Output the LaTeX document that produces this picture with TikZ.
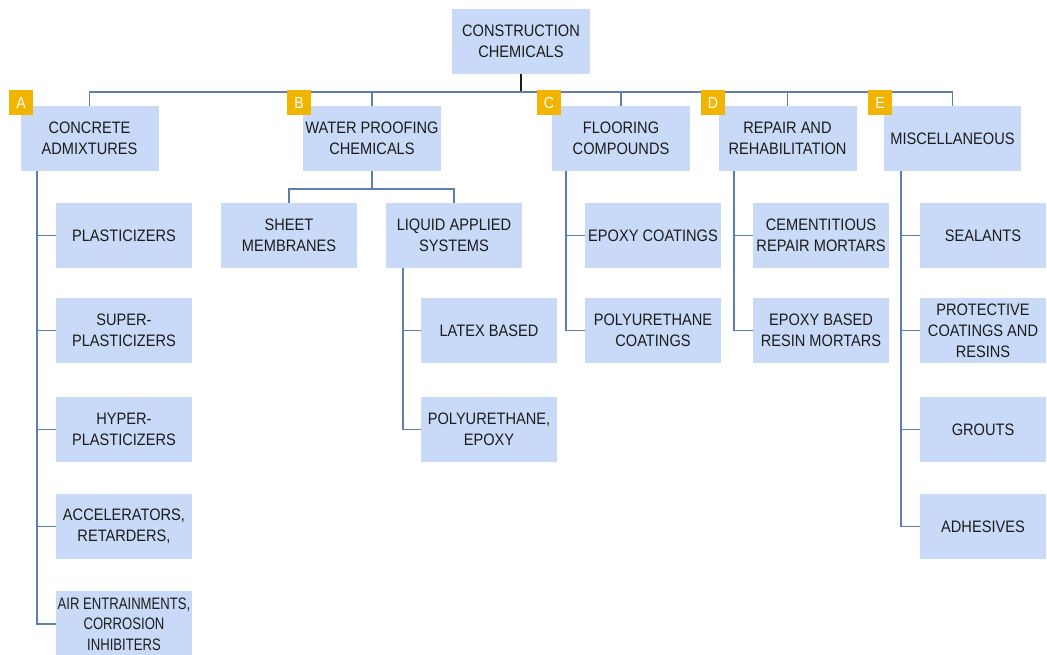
\documentclass[tikz,border=0pt]{standalone}
\usepackage{fontspec}
\setmainfont[FakeStretch=0.88]{Liberation Sans}
\newfontfamily\narrowfont[FakeStretch=0.79]{Liberation Sans}
\definecolor{boxblue}{HTML}{C9DAF8}
\definecolor{linkblue}{HTML}{5E7FAE}
\definecolor{badgegold}{HTML}{F1B400}
\definecolor{txtdark}{HTML}{1C1C1C}
\begin{document}
\begin{tikzpicture}[x=1pt,y=-1pt,
  item/.style={fill=boxblue,text=txtdark,align=center,inner sep=0pt,
    minimum width=138pt,minimum height=65pt,font=\fontsize{16.6}{21}\selectfont},
  leaf/.style={item,minimum width=136pt},
  badge/.style={fill=badgegold,text=white,inner sep=0pt,minimum width=24pt,
    minimum height=25pt,font=\fontsize{16}{16}\selectfont},
  link/.style={linkblue,line width=1.2pt}]
\useasboundingbox (0,0) rectangle (1047,655);
% top level
\node[item] (root) at (521,41.5) {CONSTRUCTION\\CHEMICALS};
\coordinate (bus) at (521,92);
\node[item] (A) at (89.5,138.5) {CONCRETE\\ADMIXTURES};
\node[item] (B) at (372,138.5) {WATER PROOFING\\CHEMICALS};
\node[item] (C) at (621,138.5) {FLOORING\\COMPOUNDS};
\node[item] (D) at (787.5,138.5) {REPAIR AND\\REHABILITATION};
\node[item,minimum width=137pt] (E) at (952.5,138.5) {MISCELLANEOUS};
% A: concrete admixtures
\node[leaf] (a1) at (124,235.5) {PLASTICIZERS};
\node[leaf] (a2) at (124,330.5) {SUPER-\\PLASTICIZERS};
\node[leaf] (a3) at (124,429.5) {HYPER-\\PLASTICIZERS};
\node[leaf] (a4) at (124,526.5) {ACCELERATORS,\\RETARDERS,};
\node[leaf,minimum height=66pt,font=\narrowfont\fontsize{16.6}{20.5}\selectfont] (a5) at (124,624) {AIR ENTRAINMENTS,\\CORROSION\\INHIBITERS};
% B: water proofing
\node[leaf] (b1) at (289,235.5) {SHEET\\MEMBRANES};
\node[leaf] (b2) at (454,235.5) {LIQUID APPLIED\\SYSTEMS};
\node[leaf] (b21) at (489,330.5) {LATEX BASED};
\node[leaf] (b22) at (489,429.5) {POLYURETHANE,\\EPOXY};
% C: flooring
\node[leaf] (c1) at (653,235.5) {EPOXY COATINGS};
\node[leaf] (c2) at (653,330.5) {POLYURETHANE\\COATINGS};
% D: repair
\node[leaf] (d1) at (821,235.5) {CEMENTITIOUS\\REPAIR MORTARS};
\node[leaf] (d2) at (821,330.5) {EPOXY BASED\\RESIN MORTARS};
% E: miscellaneous
\node[leaf,minimum width=126pt] (e1) at (983,235.5) {SEALANTS};
\node[leaf,minimum width=126pt] (e2) at (983,330.5) {PROTECTIVE\\COATINGS AND\\RESINS};
\node[leaf,minimum width=126pt] (e3) at (983,429.5) {GROUTS};
\node[leaf,minimum width=126pt] (e4) at (983,526.5) {ADHESIVES};
% connectors
\draw[txtdark,line width=1.2pt] (root.south) -- (bus);
\draw[link] (A.north) -- (A.north |- bus) -- (E.north |- bus) -- (E.north);
\draw[link] (B.north |- bus) -- (B.north);
\draw[link] (C.north |- bus) -- (C.north);
\draw[link] (D.north |- bus) -- (D.north);
\coordinate (vA) at (37,171);
\draw[link] (vA) -- (vA |- a5.west) -- (a5.west);
\foreach \n in {a1,a2,a3,a4} \draw[link] (vA |- \n.west) -- (\n.west);
\coordinate (bB) at (372,189);
\draw[link] (B.south) -- (bB);
\draw[link] (b1.north) -- (b1.north |- bB) -- (b2.north |- bB) -- (b2.north);
\coordinate (vB) at (403,268);
\draw[link] (vB) -- (vB |- b22.west) -- (b22.west);
\draw[link] (vB |- b21.west) -- (b21.west);
\coordinate (vC) at (566,171);
\draw[link] (vC) -- (vC |- c2.west) -- (c2.west);
\draw[link] (vC |- c1.west) -- (c1.west);
\coordinate (vD) at (734,171);
\draw[link] (vD) -- (vD |- d2.west) -- (d2.west);
\draw[link] (vD |- d1.west) -- (d1.west);
\coordinate (vE) at (901,171);
\draw[link] (vE) -- (vE |- e4.west) -- (e4.west);
\foreach \n in {e1,e2,e3} \draw[link] (vE |- \n.west) -- (\n.west);
% letter badges
\node[badge] (kA) at (21,102.5) {A};
\node[badge] (kB) at (299,102.5) {B};
\node[badge] (kC) at (549,102.5) {C};
\node[badge] (kD) at (713,102.5) {D};
\node[badge] (kE) at (880,102.5) {E};
\end{tikzpicture}
\end{document}
